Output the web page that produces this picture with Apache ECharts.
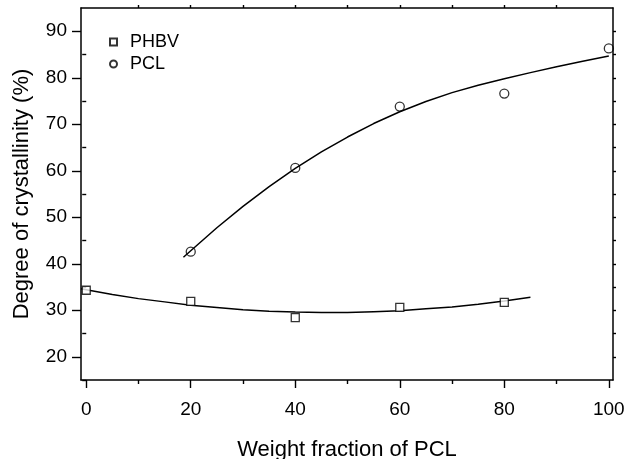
<!DOCTYPE html>
<html><head><meta charset="utf-8">
<script src="https://cdn.jsdelivr.net/npm/echarts@6/dist/echarts.min.js"></script>
<style>html,body{margin:0;padding:0;background:#fff}#c{width:640px;height:459px}</style>
</head><body><div id="c"></div>
<script>
const phbvX = [0, 20, 40, 60, 80];
const phbvY = [34.3, 31.9, 28.4, 30.6, 31.7];
const pclX = [20, 40, 60, 80, 100];
const pclY = [42.6, 60.6, 73.8, 76.6, 86.3];
const phbvFitX = [-1, 0, 5, 10, 15, 20, 25, 30, 35, 40, 45, 50, 55, 60, 65, 70, 75, 80, 85];
const phbvFitY = [34.6, 34.4, 33.4, 32.5, 31.8, 31.1, 30.6, 30.1, 29.8, 29.6, 29.5, 29.5, 29.7, 29.9, 30.3, 30.7, 31.3, 32.0, 32.8];
const pclFitX = [18.6, 20, 25, 30, 35, 40, 45, 50, 55, 60, 65, 70, 75, 80, 85, 90, 95, 100];
const pclFitY = [41.4, 42.8, 47.75, 52.35, 56.6, 60.5, 64.05, 67.25, 70.15, 72.7, 74.9, 76.8, 78.4, 79.8, 81.1, 82.35, 83.55, 84.7];
const xMajor = [0, 20, 40, 60, 80, 100];
const xMinor = [10, 30, 50, 70, 90];
const xTop = [10, 20, 30, 40, 50, 60, 70, 80, 90];
const yMajor = [20, 30, 40, 50, 60, 70, 80, 90];
const yMinor = [15, 25, 35, 45, 55, 65, 75, 85];
const yRight = [20, 25, 30, 35, 40, 45, 50, 55, 60, 65, 70, 75, 80, 85, 90];
const seriesNames = ['PHBV', 'PCL'];
const xTitle = 'Weight fraction of PCL';
const yTitle = 'Degree of crystallinity (%)';

const FONT = 'Liberation Sans, Arial, sans-serif';
const ink = '#000';
const XMIN = -1, XMAX = 100.8, YMIN = 15, YMAX = 95;

function ax(base, extra) {
  return Object.assign({
    type: 'value', gridIndex: 0, min: base[0], max: base[1],
    axisLine: { show: false }, splitLine: { show: false },
    axisLabel: { show: false }, axisTick: { show: false }
  }, extra);
}
const tickStyle = { color: ink, width: 1.4 };

const chart = echarts.init(document.getElementById('c'), null, { renderer: 'canvas' });
chart.setOption({
  animation: false,
  backgroundColor: '#fff',
  grid: { left: 81, top: 8, right: 27, bottom: 79, containLabel: false, outerBoundsMode: 'none' },
  legend: {
    data: seriesNames, orient: 'vertical', left: 109, top: 33,
    itemWidth: 7, itemHeight: 7, itemGap: 4, padding: 0,
    textStyle: { fontFamily: FONT, fontSize: 18, color: ink, padding: [0, 0, 0, 8] }
  },
  xAxis: [
    ax([XMIN, XMAX], {
      position: 'bottom',
      name: xTitle, nameLocation: 'middle', nameGap: 59,
      nameTextStyle: { fontFamily: FONT, fontSize: 22, color: ink },
      axisLine: { show: true, onZero: false, lineStyle: { color: ink, width: 1.5 } },
      axisTick: { show: true, customValues: xMajor, length: 8, inside: false, lineStyle: tickStyle },
      axisLabel: { show: true, customValues: xMajor, margin: 20, fontFamily: FONT, fontSize: 19, color: ink }
    }),
    ax([XMIN, XMAX], {
      position: 'bottom',
      axisTick: { show: true, customValues: xMinor, length: 4, inside: false, lineStyle: tickStyle }
    }),
    ax([XMIN, XMAX], {
      position: 'top',
      axisLine: { show: true, onZero: false, lineStyle: { color: ink, width: 1.5 } },
      axisTick: { show: true, customValues: xTop, length: 3, inside: false, lineStyle: tickStyle }
    })
  ],
  yAxis: [
    ax([YMIN, YMAX], {
      position: 'left',
      name: yTitle, nameLocation: 'middle', nameGap: 48,
      nameTextStyle: { fontFamily: FONT, fontSize: 22, color: ink },
      axisLine: { show: true, onZero: false, lineStyle: { color: ink, width: 1.5 } },
      axisTick: { show: true, customValues: yMajor, length: 9, inside: false, lineStyle: tickStyle },
      axisLabel: { show: true, customValues: yMajor, margin: 14, fontFamily: FONT, fontSize: 19, color: ink }
    }),
    ax([YMIN, YMAX], {
      position: 'left',
      axisTick: { show: true, customValues: yMinor, length: 4, inside: false, lineStyle: tickStyle }
    }),
    ax([YMIN, YMAX], {
      position: 'right',
      axisLine: { show: true, onZero: false, lineStyle: { color: ink, width: 1.5 } },
      axisTick: { show: true, customValues: yRight, length: 3, inside: false, lineStyle: tickStyle }
    })
  ],
  series: [
    {
      name: 'PHBV fit', type: 'line', xAxisIndex: 0, yAxisIndex: 0,
      data: phbvFitX.map((x, i) => [x, phbvFitY[i]]),
      smooth: false, showSymbol: false, symbol: 'none',
      lineStyle: { color: ink, width: 1.5 }, z: 2, silent: true
    },
    {
      name: 'PCL fit', type: 'line', xAxisIndex: 0, yAxisIndex: 0,
      data: pclFitX.map((x, i) => [x, pclFitY[i]]),
      smooth: false, showSymbol: false, symbol: 'none',
      lineStyle: { color: ink, width: 1.5 }, z: 2, silent: true
    },
    {
      name: seriesNames[0], type: 'scatter', xAxisIndex: 0, yAxisIndex: 0,
      data: phbvX.map((x, i) => [x, phbvY[i]]),
      symbol: 'rect', symbolSize: 8,
      itemStyle: { color: '#fff', borderColor: ink, borderWidth: 1.3 }, z: 3
    },
    {
      name: seriesNames[1], type: 'scatter', xAxisIndex: 0, yAxisIndex: 0,
      data: pclX.map((x, i) => [x, pclY[i]]),
      symbol: 'circle', symbolSize: 9,
      itemStyle: { color: 'rgba(255,255,255,0)', borderColor: ink, borderWidth: 1.3 }, z: 3
    }
  ]
});
</script>
</body></html>
